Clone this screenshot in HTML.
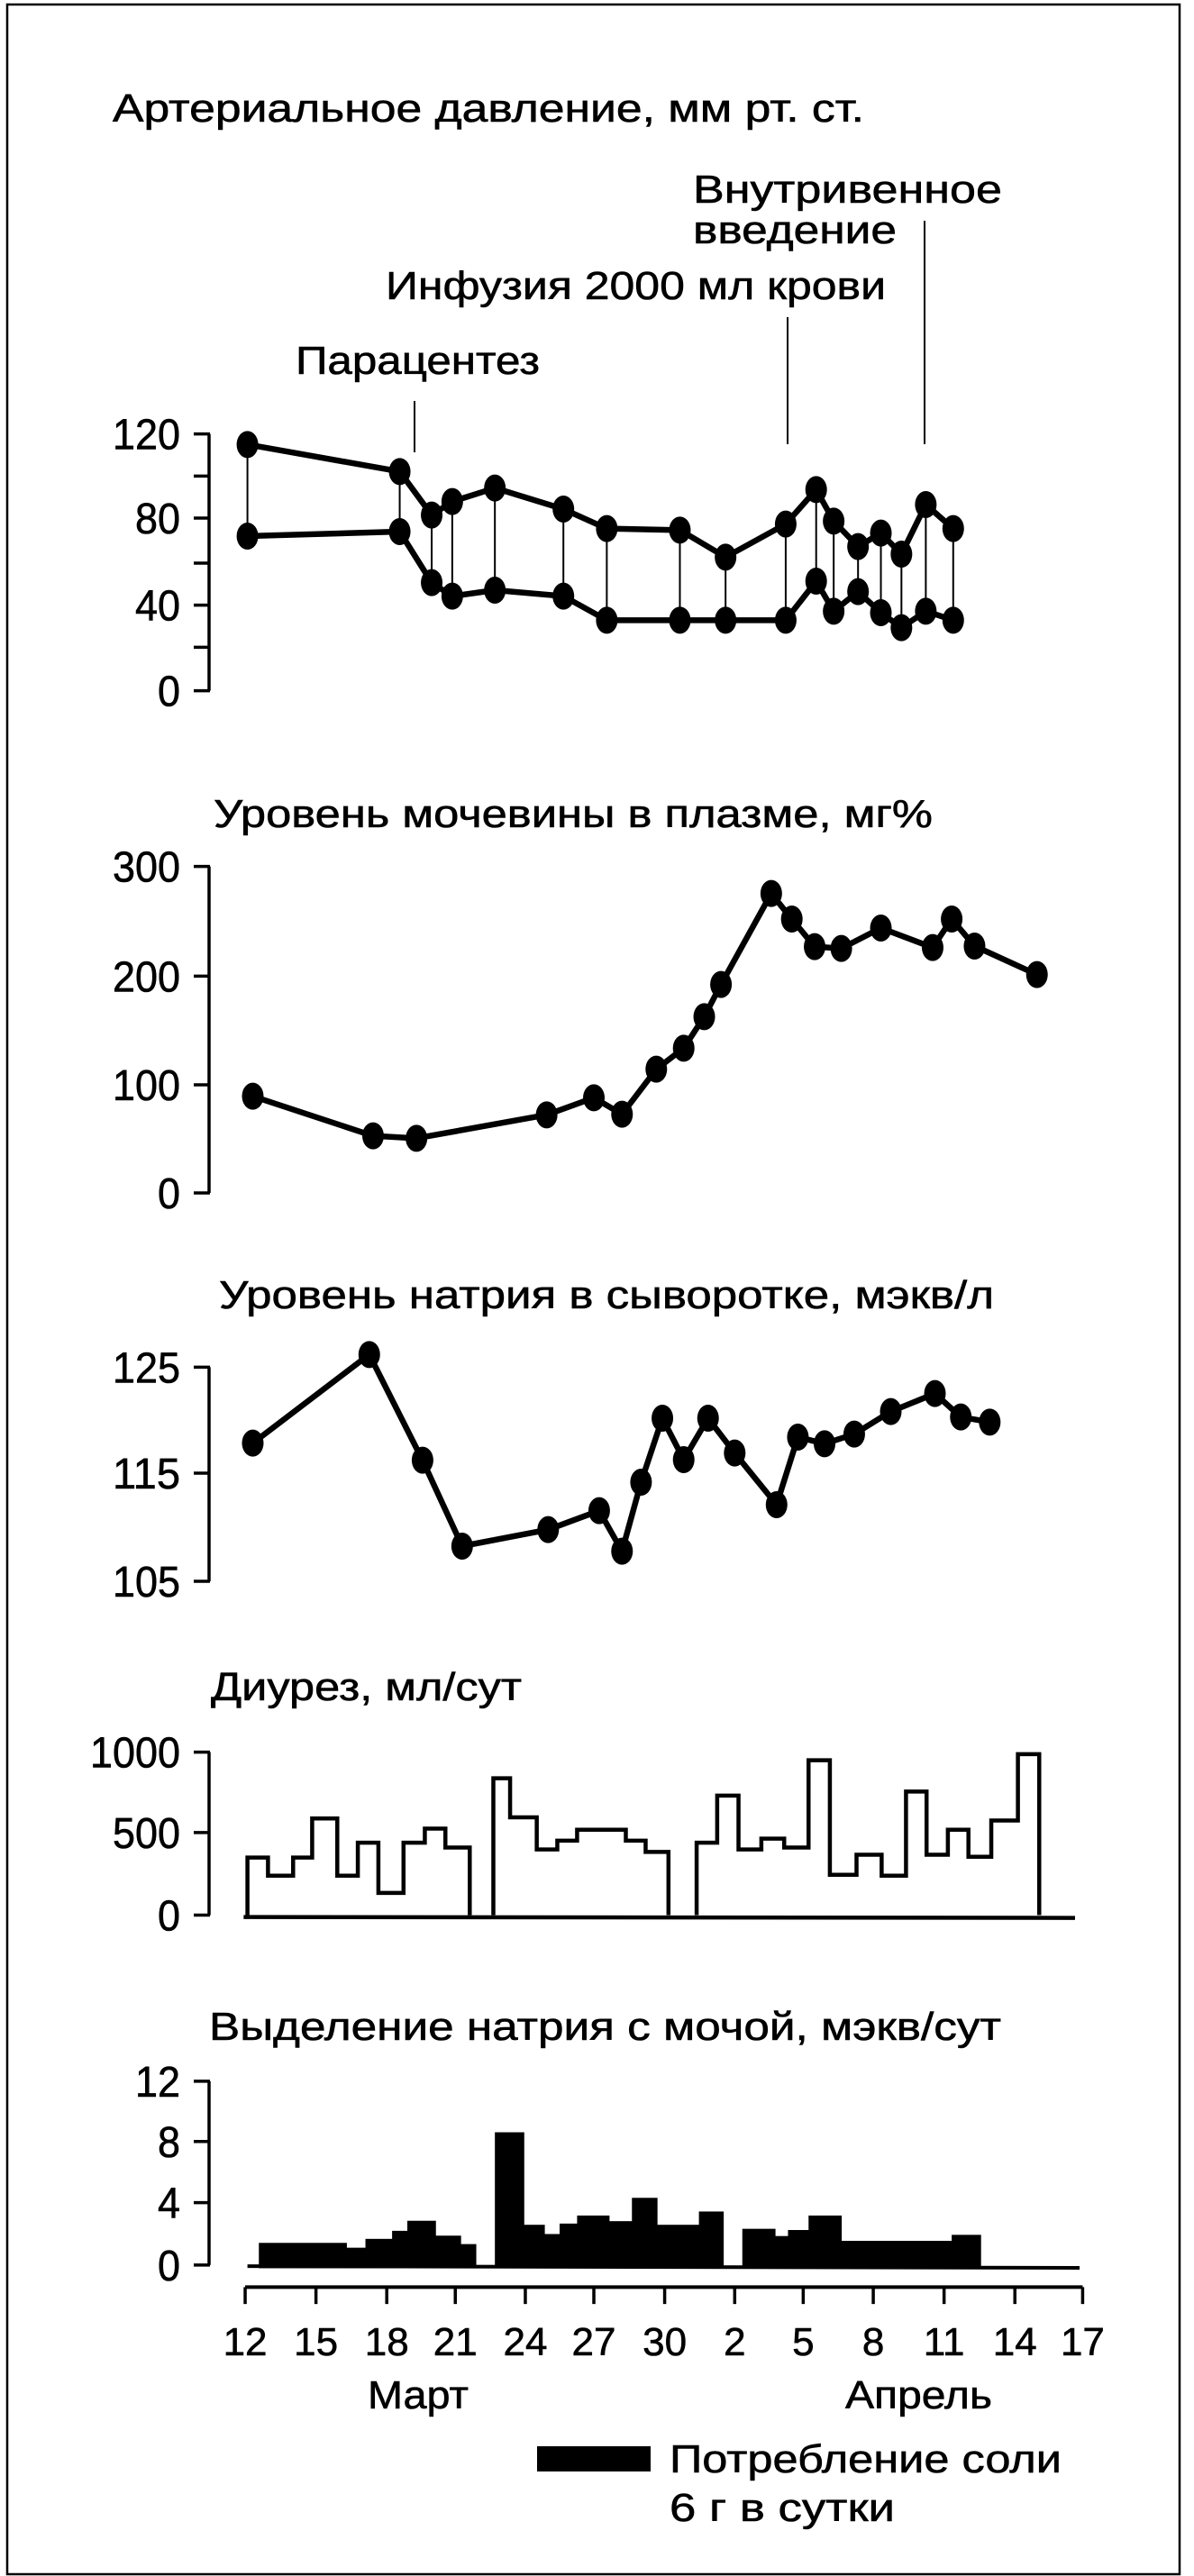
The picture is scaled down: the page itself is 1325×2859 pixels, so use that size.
<!DOCTYPE html>
<html><head><meta charset="utf-8">
<style>
html,body{margin:0;padding:0;background:#fff;}
svg{display:block;}
text{font-family:"Liberation Sans",sans-serif;fill:#000;stroke:#000;stroke-width:0.6;}
</style></head>
<body>
<svg id="s" width="1325" height="2859" viewBox="0 0 1325 2859" xmlns="http://www.w3.org/2000/svg">
<rect x="8" y="5" width="1301" height="2852" fill="none" stroke="#000" stroke-width="2.5"/>
<g font-size="44">
<text x="125" y="135" textLength="834" lengthAdjust="spacingAndGlyphs">Артериальное давление, мм рт. ст.</text>
<text x="769" y="225" textLength="343" lengthAdjust="spacingAndGlyphs">Внутривенное</text>
<text x="769" y="270" textLength="226" lengthAdjust="spacingAndGlyphs">введение</text>
<text x="428" y="332" textLength="555" lengthAdjust="spacingAndGlyphs">Инфузия 2000 мл крови</text>
<text x="328" y="415" textLength="271" lengthAdjust="spacingAndGlyphs">Парацентез</text>
<text x="237" y="918" textLength="798" lengthAdjust="spacingAndGlyphs">Уровень мочевины в плазме, мг%</text>
<text x="243" y="1452" textLength="860" lengthAdjust="spacingAndGlyphs">Уровень натрия в сыворотке, мэкв/л</text>
<text x="234" y="1887" textLength="345" lengthAdjust="spacingAndGlyphs">Диурез, мл/сут</text>
<text x="232" y="2264" textLength="879" lengthAdjust="spacingAndGlyphs">Выделение натрия с мочой,  мэкв/сут</text>
<text x="408" y="2673" textLength="112" lengthAdjust="spacingAndGlyphs">Март</text>
<text x="938" y="2673" textLength="163" lengthAdjust="spacingAndGlyphs">Апрель</text>
<text x="743" y="2744" textLength="435" lengthAdjust="spacingAndGlyphs">Потребление соли</text>
<text x="743" y="2798" textLength="250" lengthAdjust="spacingAndGlyphs">6 г в сутки</text>
</g>
<rect x="596" y="2715" width="126" height="28" fill="#000"/>
<g id="dyn"></g>
</svg>
<script>
(function(){
var NS="http://www.w3.org/2000/svg",g=document.getElementById("dyn");
function el(t,a,txt){var e=document.createElementNS(NS,t);for(var k in a)e.setAttribute(k,a[k]);if(txt!=null)e.textContent=txt;g.appendChild(e);return e;}
var X=function(z){return z/1.1836;};
var Y1=function(z){return 400+z/3;},Y5=function(z){return 900+z/3;},Y6=function(z){return 1400+z/3;},Y2=function(z){return 1900+z/2.24;};
function axis(Y,top,bot,ticks,labels){
  el("line",{x1:232,y1:Y(top),x2:232,y2:Y(bot),stroke:"#000","stroke-width":3.5});
  ticks.forEach(function(t){el("line",{x1:215,y1:Y(t),x2:233,y2:Y(t),stroke:"#000","stroke-width":3.5});});
  labels.forEach(function(l){var w=l[1].length*25;el("text",{x:200-w,y:Y(l[0])+17,"font-size":48,textLength:w,lengthAdjust:"spacingAndGlyphs"},l[1]);});
}
function poly(pts,w){el("polyline",{points:pts.map(function(p){return p.join(",");}).join(" "),fill:"none",stroke:"#000","stroke-width":w,"stroke-linejoin":"round"});}
function dots(pts){pts.forEach(function(p){el("ellipse",{cx:p[0],cy:p[1],rx:12,ry:15,fill:"#000"});});}
el("line",{x1:460,y1:445,x2:460,y2:502,stroke:"#000","stroke-width":2});
el("line",{x1:874,y1:352,x2:874,y2:493,stroke:"#000","stroke-width":2});
el("line",{x1:1026,y1:245,x2:1026,y2:493,stroke:"#000","stroke-width":2});
axis(Y1,245,1100,[245,385,525,675,815,955,1100],[[245,"120"],[525,"80"],[815,"40"],[1100,"0"]]);
var bx=[325,525,567,594,650,740,797,893,953,1032,1072,1095,1127,1157,1184,1216,1252];
var bt=[280,370,515,470,425,495,560,565,655,545,430,535,620,575,645,480,560];
var bb=[585,570,740,785,765,785,865,865,865,865,735,835,770,840,890,835,865];
var top=[],bot=[];
for(var i=0;i<bx.length;i++){top.push([X(bx[i]),Y1(bt[i])]);bot.push([X(bx[i]),Y1(bb[i])]);
 el("line",{x1:X(bx[i]),y1:Y1(bt[i]),x2:X(bx[i]),y2:Y1(bb[i]),stroke:"#000","stroke-width":2});}
poly(top,6.5);poly(bot,6.5);dots(top);dots(bot);
axis(Y5,185,1272,[185,550,912,1272],[[185,"300"],[550,"200"],[912,"100"],[1272,"0"]]);
var u=[[332,950],[490,1082],[547,1090],[718,1012],[780,955],[817,1010],[862,860],[898,790],[925,685],[947,578],[1013,275],[1040,360],[1070,452],[1105,458],[1157,390],[1225,455],[1250,360],[1280,450],[1362,545]].map(function(p){return [X(p[0]),Y5(p[1])];});
poly(u,6.5);dots(u);
axis(Y6,352,1065,[352,705,1065],[[352,"125"],[705,"115"],[1065,"105"]]);
var s=[[332,605],[485,310],[555,662],[607,948],[720,893],[787,830],[817,965],[842,735],[870,522],[898,660],[930,522],[965,638],[1020,810],[1048,585],[1083,607],[1122,575],[1170,500],[1228,440],[1262,518],[1300,535]].map(function(p){return [X(p[0]),Y6(p[1])];});
poly(s,6.5);dots(s);
axis(Y2,100,505,[100,300,505],[[100,"1000"],[300,"500"],[505,"0"]]);
el("line",{x1:X(320),y1:Y2(510),x2:X(1412),y2:Y2(512),stroke:"#000","stroke-width":4.5});
function steps(segs){
  var d="M"+X(segs[0][0])+","+Y2(505);
  for(var i=0;i<segs.length;i++){var x=X(segs[i][0]),y=Y2(segs[i][1]);d+=" L"+x+","+y;if(i<segs.length-1)d+=" L"+X(segs[i+1][0])+","+y;}
  el("path",{d:d,fill:"none",stroke:"#000","stroke-width":4.5,"stroke-linejoin":"miter"});
}
steps([[325,362],[352,407],[385,362],[410,265],[443,407],[470,325],[497,450],[530,325],[558,290],[585,337],[617,505]]);
steps([[648,165],[670,262],[705,342],[732,320],[758,293],[822,320],[848,348],[878,505]]);
steps([[915,325],[942,208],[970,342],[1000,315],[1030,337],[1062,120],[1090,405],[1125,355],[1158,407],[1190,198],[1217,355],[1245,293],[1272,360],[1302,270],[1337,105],[1365,505]]);
axis(Y2,918,1375,[918,1068,1220,1375],[[918,"12"],[1068,"8"],[1220,"4"],[1375,"0"]]);
el("line",{x1:X(325),y1:Y2(1378),x2:X(1418),y2:Y2(1382),stroke:"#000","stroke-width":4});
var bars=[[340,455,1320],[455,480,1332],[480,515,1310],[515,535,1290],[535,572,1265],[572,605,1302],[605,625,1323],[650,688,1045],[688,715,1275],[715,735,1298],[735,758,1272],[758,800,1252],[800,830,1266],[830,863,1208],[863,918,1275],[918,950,1242],[975,1018,1285],[1018,1035,1303],[1035,1062,1288],[1062,1105,1252],[1105,1250,1315],[1250,1288,1300]];
bars.forEach(function(b){el("rect",{x:X(b[0]),y:Y2(b[2]),width:X(b[1])-X(b[0])+0.5,height:Y2(1383)-Y2(b[2]),fill:"#000"});});
el("line",{x1:X(322),y1:Y2(1430),x2:X(1422),y2:Y2(1430),stroke:"#000","stroke-width":4});
var tx=[322,415,508,598,690,780,873,965,1055,1147,1240,1333,1422],tl=["12","15","18","21","24","27","30","2","5","8","11","14","17"];
tx.forEach(function(x,i){el("line",{x1:X(x),y1:Y2(1430),x2:X(x),y2:Y2(1472),stroke:"#000","stroke-width":3.5});
 el("text",{x:X(x),y:2614,"font-size":44,"text-anchor":"middle"},tl[i]);});
})();
</script>
</body></html>
